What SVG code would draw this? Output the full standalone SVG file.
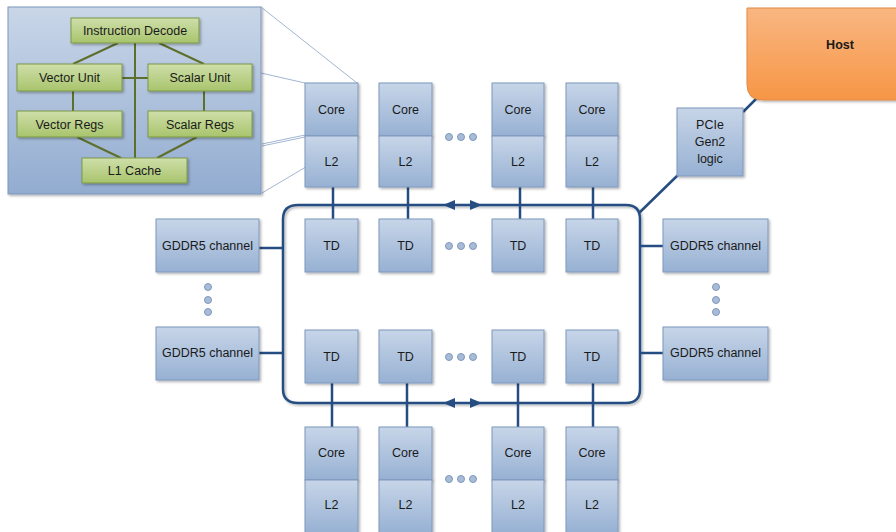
<svg xmlns="http://www.w3.org/2000/svg" width="896" height="532" viewBox="0 0 896 532">
<defs>
<linearGradient id="gb" x1="0" y1="0" x2="0" y2="1"><stop offset="0" stop-color="#c7d5e8"/><stop offset="1" stop-color="#97b1d3"/></linearGradient>
<linearGradient id="gp" x1="0" y1="0" x2="0" y2="1"><stop offset="0" stop-color="#c9d6e8"/><stop offset="1" stop-color="#92acd0"/></linearGradient>
<linearGradient id="gg" x1="0" y1="0" x2="0" y2="1"><stop offset="0" stop-color="#cfdfaa"/><stop offset="1" stop-color="#a8c46c"/></linearGradient>
<linearGradient id="go" x1="0" y1="0" x2="0" y2="1"><stop offset="0" stop-color="#f9b681"/><stop offset="1" stop-color="#f79646"/></linearGradient>
<filter id="sh" x="-10%" y="-10%" width="130%" height="130%"><feDropShadow dx="1.5" dy="1.5" stdDeviation="1" flood-color="#000" flood-opacity="0.3"/></filter>
</defs>
<style>
.box{fill:url(#gb);stroke:#7f98bd;stroke-width:1;filter:url(#sh)}
.gbox{fill:url(#gg);stroke:#7d9846;stroke-width:1;filter:url(#sh)}
.t{font-family:"Liberation Sans",Arial,sans-serif;font-size:12.5px;fill:#1a1a1a;text-anchor:middle;dominant-baseline:central}
.bus{fill:none;stroke:#254d82;stroke-width:2.5}
.gl{fill:none;stroke:#5e6f2a;stroke-width:2}
.zl{fill:none;stroke:#a3b6d2;stroke-width:1}
.dot{fill:#a8bcd7;stroke:#7f98bd;stroke-width:1}
.ah{fill:#254d82}
</style>
<rect width="896" height="532" fill="#fff"/>

<g id="connectors">
<path class="zl" d="M261 7 L357 83 M261 73 L305 83 M262 144 L305 135 M262 146 L305 137 M262 193 L358 136"/>
<path class="bus" d="M298 205 H626 Q640 205 640 219 V389 Q640 403 626 403 H298 Q283 403 283 389 V219 Q283 205 298 205 Z" style="filter:url(#sh)"/>
<path class="bus" d="M333 187 V219 M408 187 V219 M520 187 V219 M593 187 V219 M332 383 V427 M407 383 V427 M518 383 V427 M593 383 V427"/>
<path class="bus" d="M259 248 H283 M259 353 H283 M640 246 H663 M640 353 H663"/>
<path class="bus" d="M639 213 L678 175 M743 112 L758 97" stroke-width="2.5"/>
<polygon class="ah" points="443,205 455,200 455,210"/>
<polygon class="ah" points="482,205 470,200 470,210"/>
<polygon class="ah" points="443,403 455,398 455,408"/>
<polygon class="ah" points="482,403 470,398 470,408"/>
</g>

<g id="core-detail">
<rect x="8" y="7" width="253" height="187" fill="url(#gp)" stroke="#7f98bd" filter="url(#sh)"/>
<path class="gl" d="M118 43 L73 64 M159 43 L204 64 M135 43 V158 M122 78 H148 M73 91 V111 M204 91 V111 M77 137 L121 158 M197 137 L157 158"/>
<g id="instruction-decode"><rect class="gbox" x="71" y="18" width="128" height="25"/><text class="t" x="135" y="31">Instruction Decode</text></g>
<g id="vector-unit"><rect class="gbox" x="17" y="64" width="105" height="27"/><text class="t" x="69.5" y="78">Vector Unit</text></g>
<g id="scalar-unit"><rect class="gbox" x="148" y="64" width="104" height="27"/><text class="t" x="200" y="78">Scalar Unit</text></g>
<g id="vector-regs"><rect class="gbox" x="17" y="111" width="105" height="26"/><text class="t" x="69.5" y="124.5">Vector Regs</text></g>
<g id="scalar-regs"><rect class="gbox" x="148" y="111" width="104" height="26"/><text class="t" x="200" y="124.5">Scalar Regs</text></g>
<g id="l1-cache"><rect class="gbox" x="82" y="158" width="105" height="25"/><text class="t" x="134.5" y="171">L1 Cache</text></g>
</g>

<g id="core-top-1"><rect class="box" x="305" y="83" width="53" height="53"/><text class="t" x="331.5" y="110">Core</text><rect class="box" x="305" y="136" width="53" height="51"/><text class="t" x="331.5" y="162">L2</text></g>
<g id="core-top-2"><rect class="box" x="379" y="83" width="53" height="53"/><text class="t" x="405.5" y="110">Core</text><rect class="box" x="379" y="136" width="53" height="51"/><text class="t" x="405.5" y="162">L2</text></g>
<g id="core-top-3"><rect class="box" x="492" y="83" width="52" height="53"/><text class="t" x="518" y="110">Core</text><rect class="box" x="492" y="136" width="52" height="51"/><text class="t" x="518" y="162">L2</text></g>
<g id="core-top-4"><rect class="box" x="566" y="83" width="52" height="53"/><text class="t" x="592" y="110">Core</text><rect class="box" x="566" y="136" width="52" height="51"/><text class="t" x="592" y="162">L2</text></g>
<g id="dots-top"><circle class="dot" cx="449" cy="137" r="3.5"/><circle class="dot" cx="461" cy="137" r="3.5"/><circle class="dot" cx="473" cy="137" r="3.5"/></g>

<g id="td-top-1"><rect class="box" x="305" y="219" width="53" height="53"/><text class="t" x="331.5" y="246">TD</text></g>
<g id="td-top-2"><rect class="box" x="379" y="219" width="53" height="53"/><text class="t" x="405.5" y="246">TD</text></g>
<g id="td-top-3"><rect class="box" x="492" y="219" width="52" height="53"/><text class="t" x="518" y="246">TD</text></g>
<g id="td-top-4"><rect class="box" x="566" y="219" width="52" height="53"/><text class="t" x="592" y="246">TD</text></g>
<g id="dots-td-top"><circle class="dot" cx="449" cy="246" r="3.5"/><circle class="dot" cx="461" cy="246" r="3.5"/><circle class="dot" cx="473" cy="246" r="3.5"/></g>

<g id="td-bot-1"><rect class="box" x="305" y="330" width="53" height="53"/><text class="t" x="331.5" y="356.5">TD</text></g>
<g id="td-bot-2"><rect class="box" x="379" y="330" width="53" height="53"/><text class="t" x="405.5" y="356.5">TD</text></g>
<g id="td-bot-3"><rect class="box" x="492" y="330" width="52" height="53"/><text class="t" x="518" y="356.5">TD</text></g>
<g id="td-bot-4"><rect class="box" x="566" y="330" width="52" height="53"/><text class="t" x="592" y="356.5">TD</text></g>
<g id="dots-td-bot"><circle class="dot" cx="449" cy="357" r="3.5"/><circle class="dot" cx="461" cy="357" r="3.5"/><circle class="dot" cx="473" cy="357" r="3.5"/></g>

<g id="gddr-left-1"><rect class="box" x="156" y="219" width="103" height="53"/><text class="t" x="207.5" y="246">GDDR5 channel</text></g>
<g id="gddr-left-2"><rect class="box" x="156" y="327" width="103" height="53"/><text class="t" x="207.5" y="353">GDDR5 channel</text></g>
<g id="dots-left"><circle class="dot" cx="208" cy="287" r="3.5"/><circle class="dot" cx="208" cy="300" r="3.5"/><circle class="dot" cx="208" cy="312" r="3.5"/></g>
<g id="gddr-right-1"><rect class="box" x="663" y="219" width="105" height="53"/><text class="t" x="715.5" y="246">GDDR5 channel</text></g>
<g id="gddr-right-2"><rect class="box" x="663" y="327" width="105" height="53"/><text class="t" x="715.5" y="353">GDDR5 channel</text></g>
<g id="dots-right"><circle class="dot" cx="716" cy="287" r="3.5"/><circle class="dot" cx="716" cy="300" r="3.5"/><circle class="dot" cx="716" cy="312" r="3.5"/></g>

<g id="pcie"><rect class="box" x="677" y="108" width="66" height="68"/><text class="t" x="710" y="125">PCIe</text><text class="t" x="710" y="142">Gen2</text><text class="t" x="710" y="159">logic</text></g>
<g id="host"><path d="M747 8 H900 V100 H763 Q747 100 747 84 Z" fill="url(#go)" stroke="#e08a45" stroke-width="1" filter="url(#sh)"/><text class="t" x="840" y="45" font-weight="bold">Host</text></g>

<g id="core-bot-1"><rect class="box" x="305" y="427" width="53" height="53"/><text class="t" x="331.5" y="453">Core</text><rect class="box" x="305" y="480" width="53" height="53"/><text class="t" x="331.5" y="505">L2</text></g>
<g id="core-bot-2"><rect class="box" x="379" y="427" width="53" height="53"/><text class="t" x="405.5" y="453">Core</text><rect class="box" x="379" y="480" width="53" height="53"/><text class="t" x="405.5" y="505">L2</text></g>
<g id="core-bot-3"><rect class="box" x="492" y="427" width="52" height="53"/><text class="t" x="518" y="453">Core</text><rect class="box" x="492" y="480" width="52" height="53"/><text class="t" x="518" y="505">L2</text></g>
<g id="core-bot-4"><rect class="box" x="566" y="427" width="52" height="53"/><text class="t" x="592" y="453">Core</text><rect class="box" x="566" y="480" width="52" height="53"/><text class="t" x="592" y="505">L2</text></g>
<g id="dots-bot"><circle class="dot" cx="449" cy="479" r="3.5"/><circle class="dot" cx="461" cy="479" r="3.5"/><circle class="dot" cx="473" cy="479" r="3.5"/></g>
</svg>
